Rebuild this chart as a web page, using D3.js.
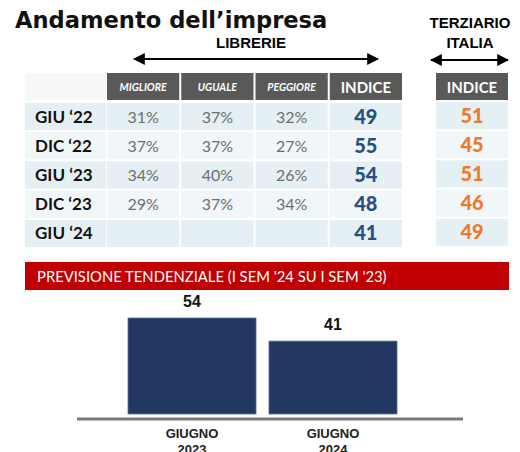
<!DOCTYPE html>
<html>
<head>
<meta charset="utf-8">
<script src="https://cdn.jsdelivr.net/npm/d3@7"></script>
<style>
  body { margin: 0; background: #fff; }
  svg { display: block; }
</style>
</head>
<body>
<div id="chart"></div>
<script>
const periods = ["GIU \u201822", "DIC \u201822", "GIU \u201823", "DIC \u201823", "GIU \u201824"];
const columns = ["MIGLIORE", "UGUALE", "PEGGIORE", "INDICE"];
const migliore = [31, 37, 34, 29, null];
const uguale = [37, 37, 40, 37, null];
const peggiore = [32, 27, 26, 34, null];
const indice = [49, 55, 54, 48, 41];
const terziario = [51, 45, 51, 46, 49];

const barCategories = ["GIUGNO 2023", "GIUGNO 2024"];
const barValues = [54, 41];

const width = 520, height = 452;
const svg = d3.select("#chart").append("svg")
    .attr("width", width)
    .attr("height", height);

const gothic = "'DejaVu Sans', sans-serif";
const lato = "Lato, 'Open Sans', sans-serif";
const arial = "'Liberation Sans', Arial, sans-serif";

// title
svg.append("text")
    .attr("x", 15).attr("y", 28)
    .style("font-family", gothic).style("font-weight", "bold").style("font-size", "22.6px")
    .attr("fill", "#111")
    .text("Andamento dell\u2019impresa");

// arrows
const defs = svg.append("defs");
defs.append("marker")
    .attr("id", "head")
    .attr("viewBox", "0 0 10 10")
    .attr("refX", 9).attr("refY", 5)
    .attr("markerWidth", 6).attr("markerHeight", 6)
    .attr("markerUnits", "strokeWidth")
    .attr("orient", "auto-start-reverse")
    .append("path").attr("d", "M0,0L10,5L0,10Z").attr("fill", "#000");

function arrow(x1, x2, y) {
    svg.append("line")
        .attr("x1", x1).attr("x2", x2).attr("y1", y).attr("y2", y)
        .attr("stroke", "#000").attr("stroke-width", 2)
        .attr("marker-start", "url(#head)").attr("marker-end", "url(#head)");
}
arrow(134, 378, 59);
arrow(431, 508, 60);

svg.append("text")
    .attr("x", 251).attr("y", 48).attr("text-anchor", "middle")
    .style("font-family", arial).style("font-weight", "bold").style("font-size", "15px")
    .text("LIBRERIE");

svg.append("text")
    .attr("x", 470).attr("y", 28).attr("text-anchor", "middle")
    .style("font-family", arial).style("font-weight", "bold").style("font-size", "15px")
    .text("TERZIARIO");
svg.append("text")
    .attr("x", 470).attr("y", 48).attr("text-anchor", "middle")
    .style("font-family", arial).style("font-weight", "bold").style("font-size", "15px")
    .text("ITALIA");

// table scales
const xCol = d3.scaleBand().domain(columns).range([107, 402]).paddingInner(0.027);
const yRow = d3.scaleBand().domain(periods).range([103, 247]).paddingInner(0.07);
const labelX0 = 25, labelX1 = 106;
const headY = 73, headH = 27;
const terzX0 = 436, terzX1 = 508;
const rowFill = (d, i) => i % 2 === 0 ? "#e4f0f3" : "#f1f7f9";

// header
svg.append("rect")
    .attr("x", labelX0).attr("y", headY).attr("width", labelX1 - labelX0).attr("height", headH)
    .attr("fill", "#f8f8f8");

const head = svg.selectAll(".head")
    .data(columns)
    .enter().append("g").attr("class", "head");
head.append("rect")
    .attr("x", d => xCol(d)).attr("y", headY)
    .attr("width", xCol.bandwidth()).attr("height", headH)
    .attr("fill", "#595959");
head.append("text")
    .attr("x", d => xCol(d) + xCol.bandwidth() / 2)
    .attr("y", d => d === "INDICE" ? headY + 20 : headY + 17.5)
    .attr("text-anchor", "middle")
    .attr("fill", "#fff")
    .style("font-family", lato).style("font-weight", "bold")
    .style("font-style", d => d === "INDICE" ? "normal" : "italic")
    .style("font-size", d => d === "INDICE" ? "15px" : "10.5px")
    .text(d => d);

svg.append("rect")
    .attr("x", terzX0).attr("y", headY).attr("width", terzX1 - terzX0).attr("height", headH)
    .attr("fill", "#595959");
svg.append("text")
    .attr("x", (terzX0 + terzX1) / 2).attr("y", headY + 20)
    .attr("text-anchor", "middle").attr("fill", "#fff")
    .style("font-family", lato).style("font-weight", "bold").style("font-size", "15px")
    .text("INDICE");

// rows
const rows = svg.selectAll(".row")
    .data(periods)
    .enter().append("g").attr("class", "row")
    .attr("transform", d => `translate(0,${yRow(d)})`);

rows.append("rect")
    .attr("x", labelX0).attr("width", labelX1 - labelX0).attr("height", yRow.bandwidth())
    .attr("fill", rowFill);
rows.append("text")
    .attr("x", 35).attr("y", yRow.bandwidth() / 2 + 6)
    .attr("fill", "#111")
    .style("font-family", lato).style("font-weight", "bold").style("font-size", "17px")
    .text(d => d);

const series = [migliore, uguale, peggiore, indice];
columns.forEach((c, ci) => {
    rows.append("rect")
        .attr("x", xCol(c)).attr("width", xCol.bandwidth()).attr("height", yRow.bandwidth())
        .attr("fill", rowFill);
    rows.append("text")
        .attr("x", xCol(c) + xCol.bandwidth() / 2)
        .attr("y", yRow.bandwidth() / 2 + (c === "INDICE" ? 7 : 6))
        .attr("text-anchor", "middle")
        .attr("fill", c === "INDICE" ? "#29507f" : "#6e6e6e")
        .style("font-family", lato)
        .style("font-weight", c === "INDICE" ? "900" : "normal")
        .style("font-size", c === "INDICE" ? "20px" : "16px")
        .text((d, i) => series[ci][i] == null ? "" : (c === "INDICE" ? series[ci][i] : series[ci][i] + "%"));
});

rows.append("rect")
    .attr("x", terzX0).attr("y", -1).attr("width", terzX1 - terzX0).attr("height", yRow.bandwidth())
    .attr("fill", rowFill);
rows.append("text")
    .attr("x", (terzX0 + terzX1) / 2).attr("y", yRow.bandwidth() / 2 + 6)
    .attr("text-anchor", "middle").attr("fill", "#f07a2c")
    .style("font-family", lato).style("font-weight", "900").style("font-size", "20px")
    .text((d, i) => terziario[i]);

// banner
svg.append("rect")
    .attr("x", 25).attr("y", 262).attr("width", 484).attr("height", 28)
    .attr("fill", "#c00000");
svg.append("text")
    .attr("x", 37).attr("y", 282)
    .attr("fill", "#fff")
    .style("font-family", lato).style("font-size", "14.8px")
    .text("PREVISIONE TENDENZIALE (I SEM '24 SU I SEM '23)");

// bar chart
const xBar = d3.scaleBand().domain(barCategories).range([128, 397]).paddingInner(0.092);
const yBar = d3.scaleLinear().domain([0, 54]).range([414, 318]);

svg.append("line")
    .attr("x1", 77).attr("x2", 463).attr("y1", 419).attr("y2", 419)
    .attr("stroke", "#7a7a7a").attr("stroke-width", 3);

svg.selectAll(".bar")
    .data(barValues)
    .enter().append("rect").attr("class", "bar")
    .attr("x", (d, i) => xBar(barCategories[i]))
    .attr("y", d => yBar(d))
    .attr("width", xBar.bandwidth())
    .attr("height", d => yBar(0) - yBar(d))
    .attr("fill", "#223863")
    .attr("stroke", "#5a6f96").attr("stroke-width", 0.8);

svg.selectAll(".val")
    .data(barValues)
    .enter().append("text").attr("class", "val")
    .attr("x", (d, i) => xBar(barCategories[i]) + xBar.bandwidth() / 2)
    .attr("y", d => yBar(d) - 11)
    .attr("text-anchor", "middle").attr("fill", "#111")
    .style("font-family", arial).style("font-weight", "bold").style("font-size", "16px")
    .text(d => d);

const cat = svg.selectAll(".cat")
    .data(barCategories)
    .enter().append("text").attr("class", "cat")
    .attr("text-anchor", "middle").attr("fill", "#222")
    .style("font-family", arial).style("font-weight", "bold").style("font-size", "13px");
cat.selectAll("tspan")
    .data(d => d.split(" ").map(w => ({ w, c: d })))
    .enter().append("tspan")
    .attr("x", d => xBar(d.c) + xBar.bandwidth() / 2)
    .attr("y", (d, i) => 438 + i * 16)
    .text(d => d.w);
</script>
</body>
</html>
